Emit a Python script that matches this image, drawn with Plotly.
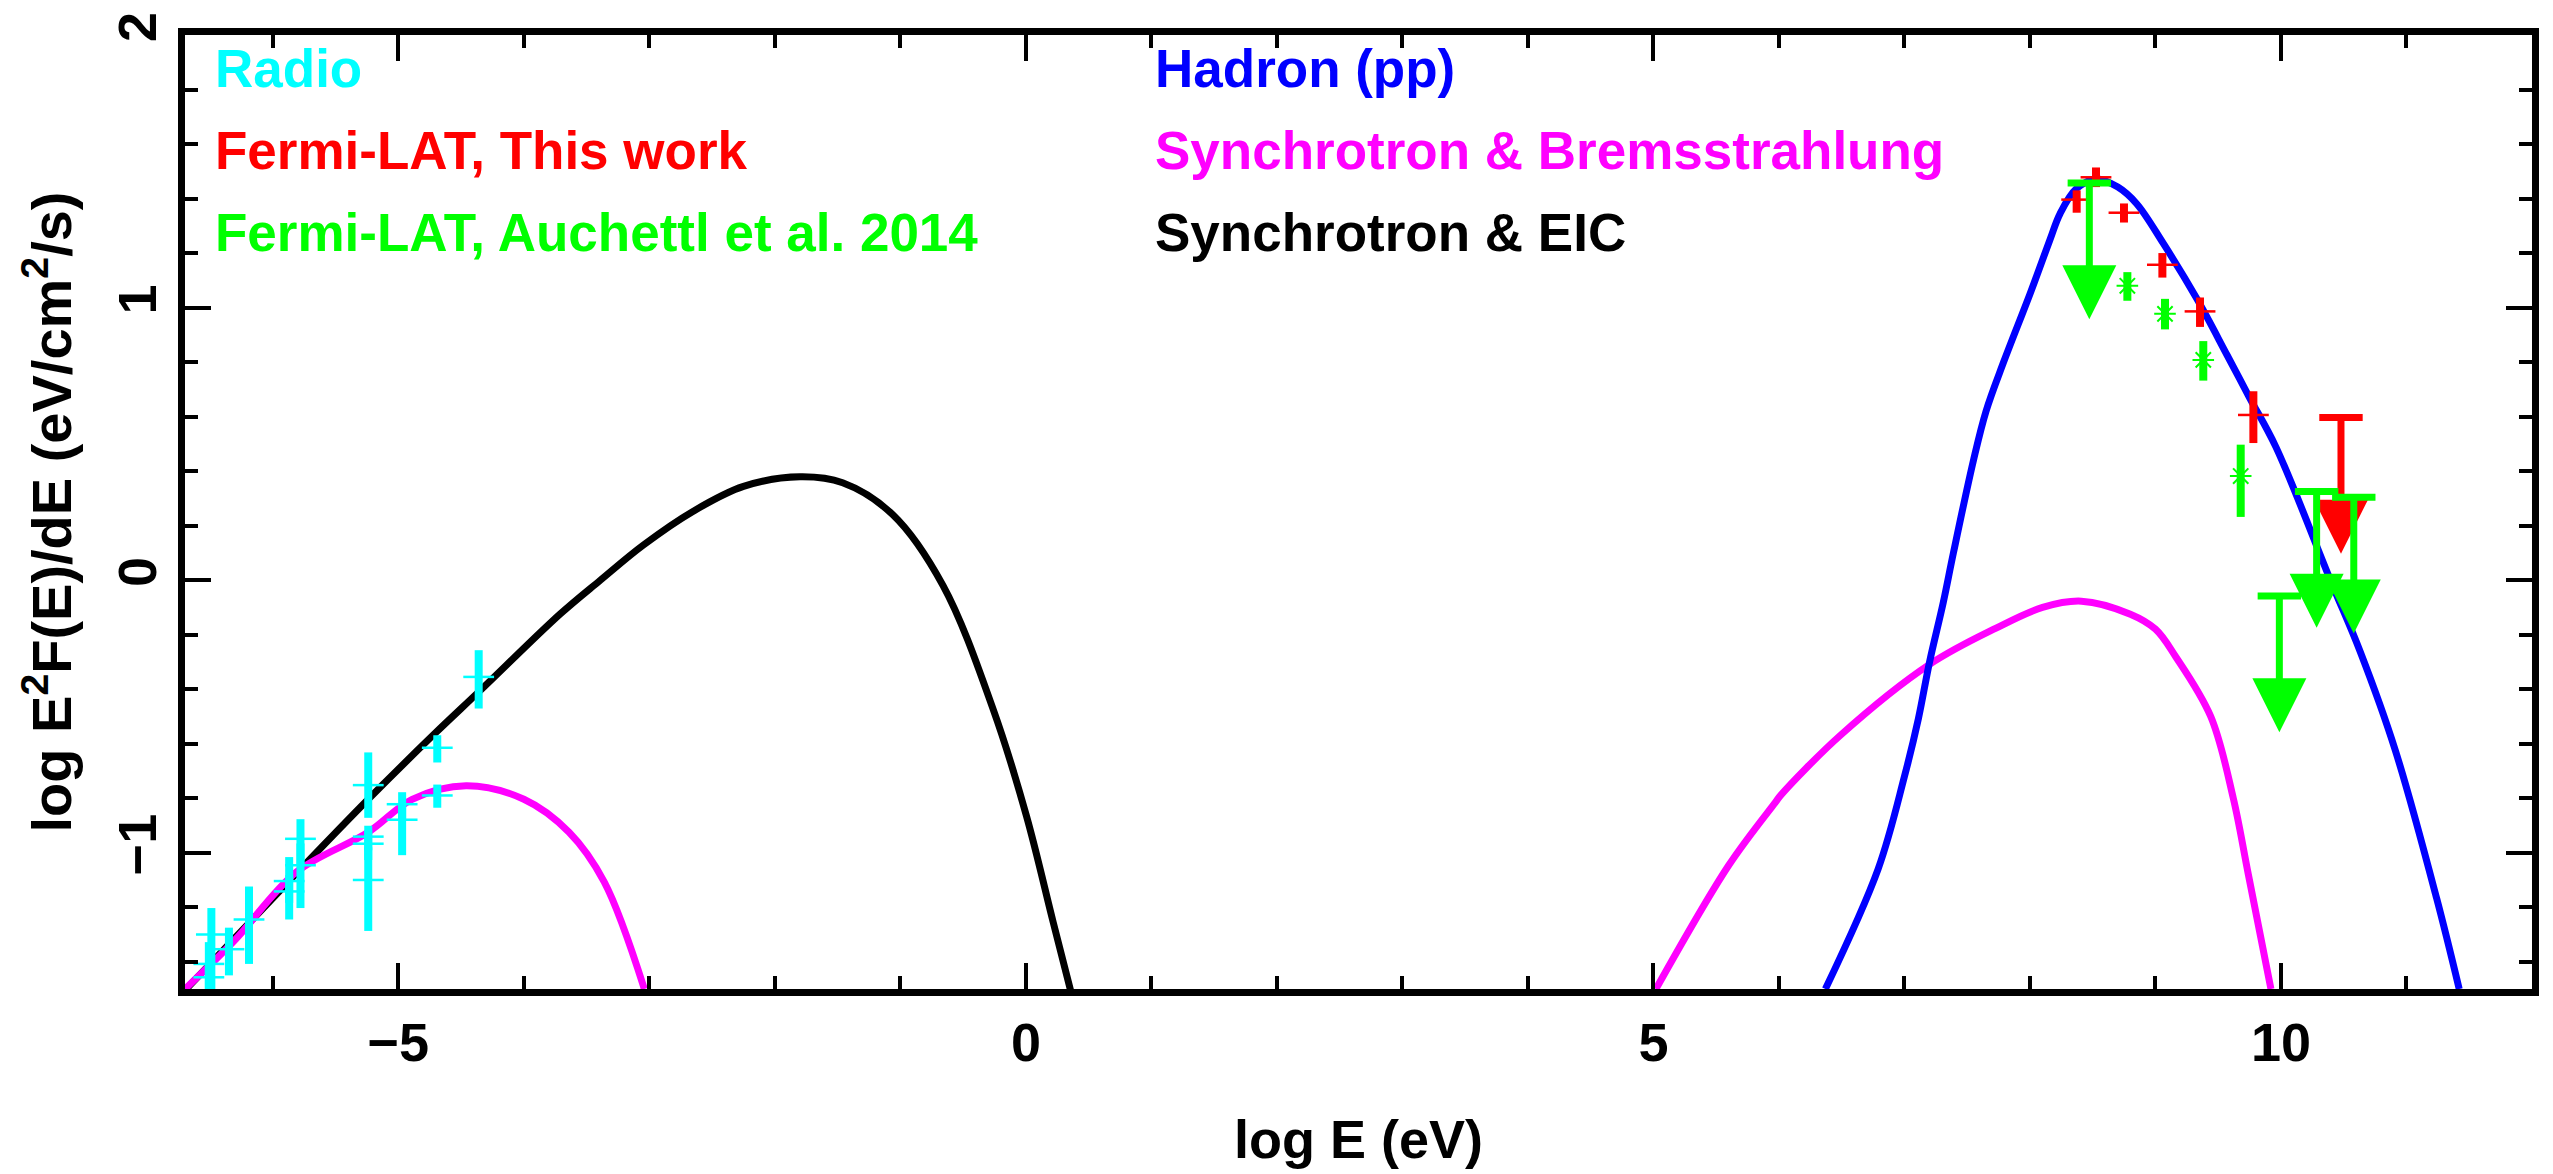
import plotly.graph_objects as go

# ---------------- data ----------------
# Synchrotron & EIC model (black)
eic_x = [-6.69, -5.85, -5.24, -4.71, -4.35, -3.71, -3.39, -3.05, -2.65, -2.25,
         -1.80, -1.46, -1.06, -0.66, -0.26, 0.005, 0.218, 0.364]
eic_y = [-1.50, -1.094, -0.804, -0.563, -0.406, -0.124, 0.0, 0.128, 0.253, 0.344,
         0.379, 0.357, 0.240, -0.020, -0.475, -0.866, -1.256, -1.52]

# Synchrotron & Bremsstrahlung model (magenta), radio part and gamma part
brem_lo_x = [-6.70, -6.31, -5.81, -5.24, -4.89, -4.46, -4.00, -3.64, -3.36, -3.04]
brem_lo_y = [-1.50, -1.324, -1.07, -0.925, -0.804, -0.754, -0.804, -0.925, -1.107, -1.50]
brem_hi_x = [5.02, 5.60, 5.97, 6.02, 6.49, 7.20, 7.73, 8.10, 8.41, 8.80, 9.00, 9.16,
             9.44, 9.62, 9.74, 9.92]
brem_hi_y = [-1.50, -1.046, -0.816, -0.786, -0.569, -0.309, -0.176, -0.10, -0.077, -0.125,
             -0.18, -0.28, -0.50, -0.80, -1.08, -1.50]

# Hadron (pp) model (blue)
pp_x = [6.37, 6.79, 7.00, 7.11, 7.20, 7.31, 7.39, 7.55, 7.65, 7.79, 8.00, 8.16, 8.24,
        8.37, 8.53, 8.70, 8.85, 9.06, 9.33, 9.57, 9.75, 9.96, 10.40, 10.63, 10.91,
        11.24, 11.42]
pp_y = [-1.50, -1.06, -0.72, -0.51, -0.30, -0.08, 0.10, 0.44, 0.62, 0.80, 1.05, 1.25,
        1.345, 1.436, 1.472, 1.442, 1.381, 1.237, 1.032, 0.826, 0.669, 0.488, -0.007,
        -0.261, -0.623, -1.167, -1.50]

# Radio data (cyan)
radio_x = [-4.36, -4.69, -4.69, -4.97, -4.97, -5.24, -5.24, -5.24, -5.24, -5.78, -5.78,
           -5.87, -5.87, -6.19, -6.35, -6.49, -6.51, -6.51]
radio_y = [-0.355, -0.615, -0.79, -0.822, -0.879, -0.752, -0.941, -0.967, -1.10, -0.949,
           -1.046, -1.104, -1.142, -1.245, -1.354, -1.30, -1.408, -1.457]
radio_err_hi = [0.098, 0.046, 0.04, 0.044, 0.06, 0.12, 0.04, 0.05, 0.12, 0.072, 0.08,
                0.088, 0.06, 0.121, 0.079, 0.097, 0.08, 0.05]
radio_err_lo = [0.116, 0.054, 0.045, 0.06, 0.13, 0.12, 0.05, 0.06, 0.187, 0.10, 0.157,
                0.08, 0.103, 0.163, 0.096, 0.20, 0.10, 0.10]

# Fermi-LAT, this work (red)
lat_x = [8.372, 8.526, 8.749, 9.055, 9.355, 9.78]
lat_y = [1.396, 1.478, 1.348, 1.157, 0.986, 0.606]
lat_err_hi = [0.034, 0.036, 0.034, 0.043, 0.051, 0.087]
lat_err_lo = [0.048, 0.036, 0.036, 0.047, 0.057, 0.103]
lat_ul_x = [10.478]
lat_ul_y = [0.597]

# Fermi-LAT, Auchettl et al. 2014 (green)
auc_x = [8.776, 9.076, 9.381, 9.679]
auc_y = [1.080, 0.977, 0.808, 0.382]
auc_err_hi = [0.05, 0.055, 0.069, 0.115]
auc_err_lo = [0.055, 0.057, 0.076, 0.15]
auc_ul_x = [8.473, 9.987, 10.284, 10.58]
auc_ul_y = [1.457, -0.058, 0.325, 0.304]

UL_LEN = 0.5

labels_left = ["Radio", "Fermi-LAT, This work", "Fermi-LAT, Auchettl et al. 2014"]
labels_left_col = ["#00FFFF", "#FF0000", "#00FF00"]
labels_right = ["Hadron (pp)", "Synchrotron &amp; Bremsstrahlung", "Synchrotron &amp; EIC"]
labels_right_col = ["#0000FF", "#FF00FF", "#000000"]
label_rows_y = [1.878, 1.578, 1.274]

FONT = "Liberation Sans, Arial, Helvetica, sans-serif"

fig = go.Figure()

LW = 7
SPL = dict(shape="spline", smoothing=1.0)
fig.add_trace(go.Scatter(x=eic_x, y=eic_y, mode="lines",
                         line=dict(color="#000000", width=LW, **SPL)))
fig.add_trace(go.Scatter(x=brem_lo_x, y=brem_lo_y, mode="lines",
                         line=dict(color="#FF00FF", width=LW, **SPL)))
fig.add_trace(go.Scatter(x=brem_hi_x, y=brem_hi_y, mode="lines",
                         line=dict(color="#FF00FF", width=LW, **SPL)))
fig.add_trace(go.Scatter(x=pp_x, y=pp_y, mode="lines",
                         line=dict(color="#0000FF", width=LW, **SPL)))


def points(x, y, hi, lo, color, symbol, size, lw):
    return go.Scatter(
        x=x, y=y, mode="markers",
        marker=dict(symbol=symbol, size=size, color=color, line=dict(color=color, width=lw)),
        error_y=dict(type="data", symmetric=False, array=hi, arrayminus=lo,
                     thickness=8, width=0, color=color))


fig.add_trace(points(radio_x, radio_y, radio_err_hi, radio_err_lo, "#00FFFF", "line-ew", 22, 2.5))
fig.add_trace(points(lat_x, lat_y, lat_err_hi, lat_err_lo, "#FF0000", "line-ew", 22, 2.5))
fig.add_trace(points(auc_x, auc_y, auc_err_hi, auc_err_lo, "#00FF00", "asterisk", 18, 2))


def upper_limits(xs, ys, color):
    zeros = [0.0 for _ in xs]
    stem = [UL_LEN - 0.1 for _ in xs]
    # cap + stem
    fig.add_trace(go.Scatter(x=xs, y=ys, mode="markers",
                             marker=dict(symbol="line-ew", size=31, color=color,
                                         line=dict(color=color, width=7)),
                             error_y=dict(type="data", symmetric=False, array=zeros,
                                          arrayminus=stem, thickness=7, width=0,
                                          color=color)))
    # arrow head (tip at y - UL_LEN)
    fig.add_trace(go.Scatter(x=xs, y=[v - UL_LEN for v in ys], mode="markers",
                             marker=dict(symbol="arrow-down", size=54, color=color,
                                         line=dict(width=0))))


upper_limits(lat_ul_x, lat_ul_y, "#FF0000")
upper_limits(auc_ul_x, auc_ul_y, "#00FF00")

annotations = []
for txt, col, yv in zip(labels_left, labels_left_col, label_rows_y):
    annotations.append(dict(x=-6.48, y=yv, xref="x", yref="y", text=txt, showarrow=False,
                            xanchor="left", yanchor="middle",
                            font=dict(family=FONT, size=53, color=col, weight="bold")))
for txt, col, yv in zip(labels_right, labels_right_col, label_rows_y):
    annotations.append(dict(x=1.01, y=yv, xref="x", yref="y", text=txt, showarrow=False,
                            xanchor="left", yanchor="middle",
                            font=dict(family=FONT, size=53, color=col, weight="bold")))

axis_common = dict(showline=True, linewidth=7, linecolor="#000000", mirror="allticks",
                   ticks="inside", tickwidth=4, tickcolor="#000000", showgrid=False,
                   zeroline=False,
                   tickfont=dict(family=FONT, size=54, color="#000000", weight="bold"))

fig.update_layout(
    width=2553, height=1174,
    margin=dict(l=185, r=21, t=26, b=182, pad=0),
    paper_bgcolor="#FFFFFF", plot_bgcolor="#FFFFFF",
    showlegend=False,
    font=dict(family=FONT, color="#000000", weight="bold"),
    annotations=annotations,
    xaxis=dict(range=[-6.7, 12.0], tick0=0, dtick=5, ticklen=26,
               minor=dict(ticks="inside", dtick=1, tick0=0, ticklen=13, tickwidth=4,
                          tickcolor="#000000", showgrid=False),
               title=dict(text="log E (eV)", standoff=52,
                          font=dict(family=FONT, size=54, color="#000000", weight="bold")),
               **axis_common),
    yaxis=dict(range=[-1.5, 2.0], tick0=0, dtick=1, ticklen=26, tickangle=-90,
               minor=dict(ticks="inside", dtick=0.2, tick0=0, ticklen=13, tickwidth=4,
                          tickcolor="#000000", showgrid=False),
               title=dict(text="log E<sup>2</sup>F(E)/dE (eV/cm<sup>2</sup>/s)", standoff=20,
                          font=dict(family=FONT, size=56, color="#000000", weight="bold")),
               **axis_common),
)

fig.write_html("out.html")
